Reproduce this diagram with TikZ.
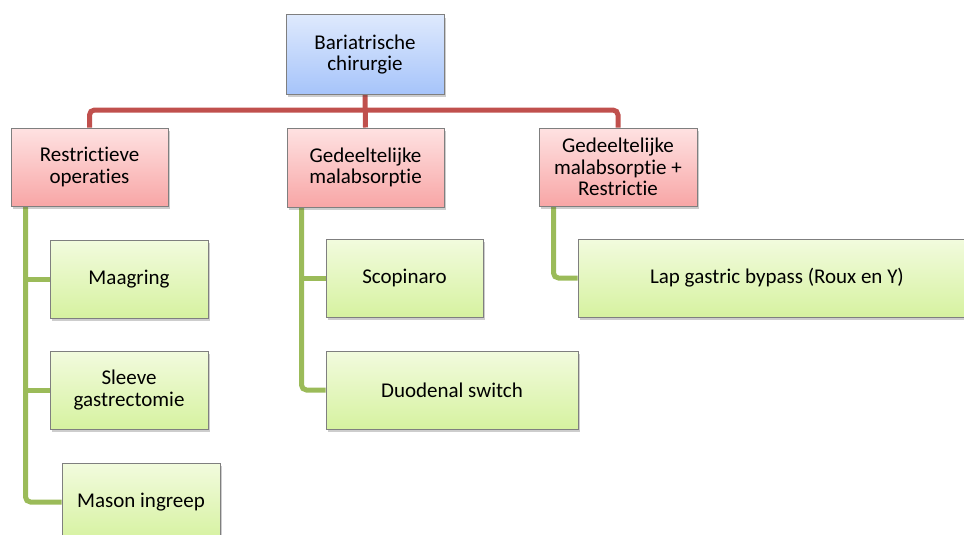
\documentclass[tikz,border=0pt]{standalone}
\usepackage{fontspec}
\setmainfont[Ligatures={NoCommon,NoRequired,NoContextual}]{Carlito}
\usetikzlibrary{shadows,calc,backgrounds}
\definecolor{redline}{HTML}{C0504D}
\definecolor{greenline}{HTML}{9BBB59}
\definecolor{boxborder}{HTML}{7F7F7F}
\tikzset{
  box/.style={draw=boxborder, line width=1pt, align=center, inner sep=0pt,
    font=\fontsize{21}{21.7}\selectfont,
    drop shadow={opacity=0.28, shadow xshift=1.5pt, shadow yshift=-3pt, fill=black!70}},
  bluebox/.style={box, top color={rgb,255:red,222;green,233;blue,253}, bottom color={rgb,255:red,166;green,196;blue,250}},
  pinkbox/.style={box, top color={rgb,255:red,254;green,226;blue,226}, bottom color={rgb,255:red,248;green,166;blue,166}},
  greenbox/.style={box, top color={rgb,255:red,242;green,251;blue,222}, bottom color={rgb,255:red,214;green,242;blue,160}},
  redconn/.style={draw=redline, line width=5pt, rounded corners=5pt},
  greenconn/.style={draw=greenline, line width=5pt, rounded corners=5pt},
}
\begin{document}
\begin{tikzpicture}[x=1pt,y=-1pt]
\useasboundingbox (0,0) rectangle (964,535);

% nodes
\node[bluebox, minimum width=158pt, minimum height=79pt] (top) at (365,54.5) {Bariatrische\\chirurgie};
\node[pinkbox, minimum width=157pt, minimum height=78pt] (A) at (89.5,167) {Restrictieve\\operaties};
\node[pinkbox, minimum width=157pt, minimum height=79pt] (B) at (365.5,167.5) {Gedeeltelijke\\malabsorptie};
\node[pinkbox, minimum width=158pt, minimum height=78pt] (C) at (618,167) {Gedeeltelijke\\malabsorptie +\\Restrictie};

\node[greenbox, minimum width=158pt, minimum height=78pt] (maag) at (129,279) {Maagring};
\node[greenbox, minimum width=158pt, minimum height=78pt] (sleeve) at (129,390) {Sleeve\\gastrectomie};
\node[greenbox, minimum width=158pt, minimum height=78pt] (mason) at (141,502) {Mason ingreep};
\node[greenbox, minimum width=157pt, minimum height=78pt] (scop) at (404.5,278) {Scopinaro};
\node[greenbox, minimum width=252pt, minimum height=78pt] (duo) at (452,390) {Duodenal switch};
\node[greenbox, minimum width=398pt, minimum height=78pt] (lap) at (777,278) {Lap gastric bypass (Roux en Y)};

\coordinate (bus) at (365,110);
\coordinate (ga) at ($(A.south west)+(15,0)$);
\coordinate (gb) at ($(B.south west)+(15,0)$);
\coordinate (gc) at ($(C.south west)+(15,0)$);

\begin{scope}[on background layer]
\draw[redconn] (A.north) |- (bus) -| (C.north);
\draw[redconn] (top.south) -- (B.north);

\draw[greenconn] (ga) |- (mason.west);
\draw[greenconn] (gb) |- (duo.west);
\draw[greenconn] (gc) |- (lap.west);
\draw[greenconn] (ga |- maag.west) -- (maag.west);
\draw[greenconn] (ga |- sleeve.west) -- (sleeve.west);
\draw[greenconn] (gb |- scop.west) -- (scop.west);
\end{scope}
\end{tikzpicture}
\end{document}
